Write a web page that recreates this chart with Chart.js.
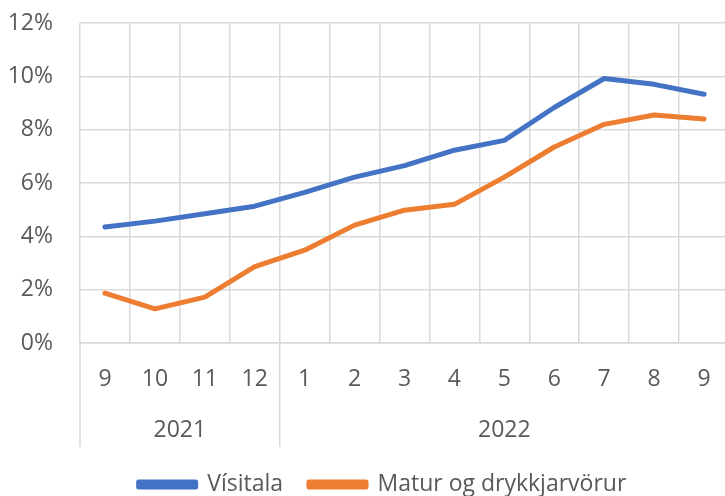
<!DOCTYPE html>
<html>
<head>
<meta charset="utf-8">
<script src="https://cdn.jsdelivr.net/npm/chart.js@4"></script>
<style>
  html, body { margin: 0; padding: 0; background: #fff; overflow: hidden; }
  #wrap { width: 729px; height: 496px; }
</style>
</head>
<body>
<div id="wrap"><canvas id="cpiChart"></canvas></div>
<script>
// Months on the x axis, grouped by year underneath
const months = ['9', '10', '11', '12', '1', '2', '3', '4', '5', '6', '7', '8', '9'];
const years = ['2021', '2022'];
const yearSpans = [4, 9];

// 12-month change, %
const visitala = [4.35, 4.57, 4.85, 5.13, 5.65, 6.22, 6.65, 7.23, 7.6, 8.83, 9.92, 9.7, 9.33];
const maturDrykkur = [1.87, 1.28, 1.72, 2.86, 3.48, 4.42, 4.98, 5.2, 6.22, 7.35, 8.2, 8.55, 8.4];

const yTicks = [0, 2, 4, 6, 8, 10, 12];

const FONT = '"Open Sans", "DejaVu Sans", sans-serif';
const FS = 23;
const TEXT = '#595959';
const GRID = '#d9d9d9';

// draws the year row + separators below month labels
const yearGroups = {
    id: 'yearGroups',
    afterLayout(chart) {
        // nudge legend a bit right, like the excel original
        chart.legend.left += 18;
        chart.legend.right += 18;
    },
    afterDraw(chart) {
        const x = chart.scales.x;
        const c = chart.ctx;
        const step = x.getPixelForValue(1) - x.getPixelForValue(0);
        let start = 0;
        c.save();
        c.strokeStyle = GRID;
        c.lineWidth = 1.5;
        c.fillStyle = TEXT;
        c.font = FS + 'px ' + FONT;
        c.textAlign = 'center';
        c.textBaseline = 'middle';
        years.forEach((yr, i) => {
            const left = x.getPixelForValue(start) - step / 2;
            const right = x.getPixelForValue(start + yearSpans[i] - 1) + step / 2;
            c.beginPath();
            c.moveTo(left, x.top);
            c.lineTo(left, x.bottom);
            c.stroke();
            c.fillText(yr, (left + right) / 2, x.top + 87);
            start += yearSpans[i];
        });
        c.restore();
    }
};

new Chart(document.getElementById('cpiChart'), {
    type: 'line',
    data: {
        labels: months,
        datasets: [{
            label: 'Vísitala',
            data: visitala,
            borderColor: '#4472c4',
            backgroundColor: '#4472c4',
            borderWidth: 5,
            pointRadius: 0,
            borderCapStyle: 'round',
            borderJoinStyle: 'round'
        }, {
            label: 'Matur og drykkjarvörur',
            data: maturDrykkur,
            borderColor: '#ed7d31',
            backgroundColor: '#ed7d31',
            borderWidth: 5,
            pointRadius: 0,
            borderCapStyle: 'round',
            borderJoinStyle: 'round'
        }]
    },
    options: {
        responsive: true,
        maintainAspectRatio: false,
        animation: false,
        layout: { padding: { top: 23, right: 0, left: 0, bottom: 0 } },
        scales: {
            x: {
                offset: true,
                grid: { offset: true, color: GRID, lineWidth: 1.5, drawTicks: false },
                border: { color: GRID, width: 1.5 },
                ticks: { color: TEXT, font: { family: FONT, size: FS }, padding: 23, maxRotation: 0, autoSkip: false },
                afterFit(scale) {
                    scale.height = 104;
                    scale.paddingLeft = 0;
                    scale.paddingRight = 0;
                }
            },
            y: {
                min: 0,
                max: 12,
                afterBuildTicks(scale) { scale.ticks = yTicks.map(v => ({ value: v })); },
                grid: { color: GRID, lineWidth: 1.5, drawTicks: false },
                border: { display: false },
                ticks: {
                    color: TEXT,
                    font: { family: FONT, size: FS },
                    padding: 27,
                    callback: v => v + '%'
                },
                afterFit(scale) {
                    scale.width = 80;
                    scale.paddingTop = 0;
                    scale.paddingBottom = 0;
                }
            }
        },
        plugins: {
            legend: {
                position: 'bottom',
                maxHeight: 49,
                labels: {
                    color: TEXT,
                    font: { family: FONT, size: FS },
                    boxWidth: 57,
                    boxHeight: 5,
                    padding: 26
                }
            },
            tooltip: { enabled: false }
        }
    },
    plugins: [yearGroups]
});
</script>
</body>
</html>
